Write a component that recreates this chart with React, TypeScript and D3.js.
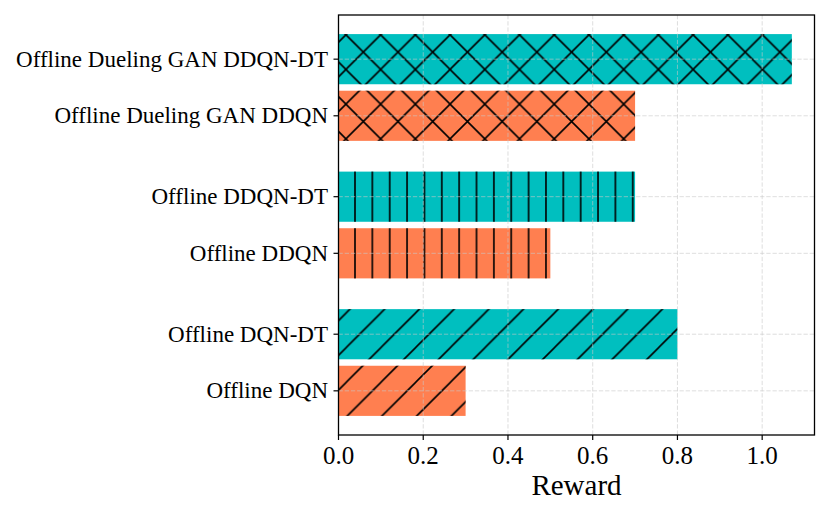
import React from "react";
import * as d3 from "d3";

const labels = [
  "Offline Dueling GAN DDQN-DT",
  "Offline Dueling GAN DDQN",
  "Offline DDQN-DT",
  "Offline DDQN",
  "Offline DQN-DT",
  "Offline DQN",
];
const rewards = [1.07, 0.7, 0.7, 0.5, 0.8, 0.3];
const positions = [4.1, 3.4, 2.4, 1.7, 0.7, 0];
const hatches = ["x", "x", "|", "|", "/", "/"];
const colors = ["#00BFBF", "#FF7F50", "#00BFBF", "#FF7F50", "#00BFBF", "#FF7F50"];
const xTicks = [0, 0.2, 0.4, 0.6, 0.8, 1.0];

const W = 830;
const H = 519;
const L = 338.5;
const R = 814.5;
const T = 15;
const B = 435;
const barH = 0.62;
const PD = 34.72;
const PV = 17.36;

export default function App() {
  const xMax = d3.max(rewards)! * 1.05;
  const x = d3.scaleLinear().domain([0, xMax]).range([L, R]);
  const lo = d3.min(positions)! - barH / 2;
  const hi = d3.max(positions)! + barH / 2;
  const pad = 0.05 * (hi - lo);
  const y = d3.scaleLinear().domain([lo - pad, hi + pad]).range([B, T]);
  const font = "'Liberation Serif', 'Times New Roman', serif";
  const hs = 1.6;

  return (
    <svg
      width={W}
      height={H}
      style={{ position: "absolute", left: 0, top: 0, background: "#fff" }}
    >
      <defs>
        <pattern id="h-x" patternUnits="userSpaceOnUse" width={PD} height={PD} x={-1.3} y={0}>
          <path
            d={`M0,0 L${PD},${PD} M${PD},0 L0,${PD} M-2,2 L2,-2 M${PD - 2},${PD + 2} L${PD + 2},${PD - 2} M-2,${PD - 2} L2,${PD + 2} M${PD - 2},-2 L${PD + 2},2`}
            stroke="#000"
            strokeWidth={hs}
            fill="none"
          />
        </pattern>
        <pattern id="h-/" patternUnits="userSpaceOnUse" width={PD} height={PD} x={-0.6} y={0}>
          <path
            d={`M0,${PD} L${PD},0 M-2,2 L2,-2 M${PD - 2},${PD + 2} L${PD + 2},${PD - 2}`}
            stroke="#000"
            strokeWidth={hs}
            fill="none"
          />
        </pattern>
        <pattern id="h-|" patternUnits="userSpaceOnUse" width={PV} height={10} x={7.8 - PV / 2} y={0}>
          <path d={`M${PV / 2},-1 L${PV / 2},11`} stroke="#000" strokeWidth={hs} fill="none" />
        </pattern>
      </defs>

      {labels.map((lab, i) => {
        const yt = y(positions[i] + barH / 2);
        const yb = y(positions[i] - barH / 2);
        return (
          <g key={lab}>
            <rect x={x(0)} y={yt} width={x(rewards[i]) - x(0)} height={yb - yt} fill={colors[i]} />
            <rect
              x={x(0)}
              y={yt}
              width={x(rewards[i]) - x(0)}
              height={yb - yt}
              fill={`url(#h-${hatches[i]})`}
            />
          </g>
        );
      })}

      {/* grid */}
      <g stroke="#c8c8c8" strokeOpacity={0.6} strokeWidth={1} strokeDasharray="4.3,1.9">
        {xTicks.map((t) => (
          <line key={"gx" + t} x1={x(t)} x2={x(t)} y1={T} y2={B} />
        ))}
        {positions.map((p) => (
          <line key={"gy" + p} x1={L} x2={R} y1={y(p)} y2={y(p)} />
        ))}
      </g>

      {/* frame */}
      <rect x={L} y={T} width={R - L} height={B - T} fill="none" stroke="#000" strokeWidth={1.3} />

      {/* x ticks */}
      {xTicks.map((t) => (
        <g key={"xt" + t}>
          <line x1={x(t)} x2={x(t)} y1={B} y2={B + 5} stroke="#000" strokeWidth={1.2} />
          <text
            x={x(t)}
            y={464}
            textAnchor="middle"
            fontFamily={font}
            fontSize={25}
            fill="#000"
          >
            {t.toFixed(1)}
          </text>
        </g>
      ))}

      {/* y ticks */}
      {labels.map((lab, i) => (
        <g key={"yt" + lab}>
          <line x1={L - 5} x2={L} y1={y(positions[i])} y2={y(positions[i])} stroke="#000" strokeWidth={1.2} />
          <text
            x={328}
            y={y(positions[i])}
            dy="0.33em"
            textAnchor="end"
            fontFamily={font}
            fontSize={23}
            fill="#000"
          >
            {lab}
          </text>
        </g>
      ))}

      <text
        x={(L + R) / 2}
        y={495}
        textAnchor="middle"
        fontFamily={font}
        fontSize={29}
        fill="#000"
      >
        Reward
      </text>
    </svg>
  );
}
